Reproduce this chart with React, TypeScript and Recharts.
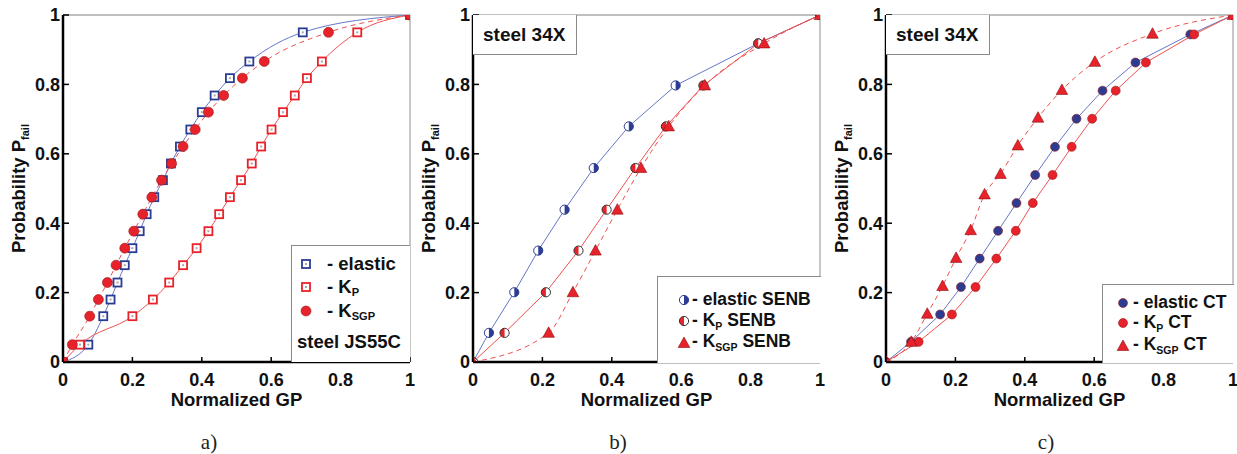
import React from 'react';
import { ScatterChart, Scatter, XAxis, YAxis, ReferenceLine, Legend } from 'recharts';

// ---------- data ----------
const axisTicks = [0, 0.2, 0.4, 0.6, 0.8, 1];
const axisTickLabels = ['0', '0.2', '0.4', '0.6', '0.8', '1'];

// panel a) steel JS55C
const aProb = [0, 0.05, 0.132, 0.18, 0.229, 0.279, 0.328, 0.377, 0.426, 0.475, 0.524, 0.572, 0.621, 0.67, 0.72, 0.768, 0.818, 0.866, 0.95, 1];
const aElasticX = [0, 0.073, 0.116, 0.137, 0.157, 0.178, 0.2, 0.221, 0.241, 0.263, 0.288, 0.311, 0.337, 0.367, 0.4, 0.437, 0.481, 0.537, 0.691, 1];
const aKpX = [0, 0.049, 0.2, 0.259, 0.306, 0.346, 0.385, 0.419, 0.45, 0.481, 0.513, 0.544, 0.571, 0.601, 0.634, 0.668, 0.703, 0.746, 0.848, 1];
const aKsgpX = [0, 0.027, 0.077, 0.102, 0.128, 0.153, 0.178, 0.204, 0.23, 0.256, 0.284, 0.313, 0.346, 0.381, 0.419, 0.463, 0.517, 0.58, 0.765, 1];

// panel b) steel 34X SENB
const bProb = [0, 0.084, 0.201, 0.321, 0.439, 0.559, 0.679, 0.797, 0.918, 1];
const bElasticX = [0, 0.046, 0.119, 0.188, 0.264, 0.348, 0.449, 0.584, 0.822, 1];
const bKpX = [0, 0.091, 0.21, 0.304, 0.385, 0.468, 0.556, 0.664, 0.822, 1];
const bKsgpX = [0, 0.218, 0.288, 0.353, 0.416, 0.484, 0.564, 0.668, 0.839, 1];

// panel c) steel 34X CT
const cProb = [0, 0.058, 0.137, 0.216, 0.298, 0.378, 0.458, 0.539, 0.62, 0.701, 0.782, 0.863, 0.944, 1];
const cElasticX = [0, 0.072, 0.156, 0.216, 0.27, 0.323, 0.376, 0.43, 0.487, 0.549, 0.624, 0.719, 0.877, 1];
const cKpX = [0, 0.094, 0.19, 0.258, 0.318, 0.374, 0.423, 0.48, 0.535, 0.594, 0.662, 0.749, 0.888, 1];
const cKsgpProb = [0, 0.058, 0.139, 0.219, 0.3, 0.38, 0.483, 0.542, 0.624, 0.704, 0.784, 0.865, 0.946, 1];
const cKsgpX = [0, 0.073, 0.119, 0.163, 0.202, 0.244, 0.284, 0.33, 0.38, 0.438, 0.507, 0.602, 0.768, 1];

const zip = (xs: number[], ys: number[]) => xs.map((x, i) => ({ x, y: ys[i] }));

// ---------- styling ----------
const FONT = '"Liberation Sans", Arial, Helvetica, sans-serif';
const BLUE = '#2b3c92';
const BLUE_LINE = '#6577c6';
const RED = '#e8222a';
const RED_LINE = '#f05050';
const W_CHART = 420;
const H_CHART = 420;
const X_TM = 11;
const Y_TM = 3;

// ---------- marker shapes ----------
const SquareMark = ({ cx, cy, color }: any) => (
  <g>
    <rect x={cx - 4} y={cy - 4} width={8} height={8} fill="#fff" stroke={color} strokeWidth={1.8} />
    <rect x={cx - 1} y={cy - 1} width={2} height={2} fill="#aaa" />
  </g>
);
const CircleMark = ({ cx, cy, color, r = 5 }: any) => (
  <circle cx={cx} cy={cy} r={r} fill={color} stroke="#9a1a1a" strokeWidth={0.6} />
);
const HalfRight = ({ cx, cy, color, r = 4.6 }: any) => (
  <g>
    <circle cx={cx} cy={cy} r={r} fill="#fff" />
    <path d={`M${cx},${cy - r} A${r},${r} 0 0,1 ${cx},${cy + r} Z`} fill={color} />
    <circle cx={cx} cy={cy} r={r} fill="none" stroke={color} strokeWidth={1} />
  </g>
);
const HalfLeft = ({ cx, cy, color, r = 4.6 }: any) => (
  <g>
    <circle cx={cx} cy={cy} r={r} fill="#fff" />
    <path d={`M${cx},${cy - r} A${r},${r} 0 0,0 ${cx},${cy + r} Z`} fill={color} />
    <circle cx={cx} cy={cy} r={r} fill="none" stroke="#333" strokeWidth={1} />
  </g>
);
const TriMark = ({ cx, cy, color }: any) => (
  <polygon
    points={`${cx},${cy - 6} ${cx - 5.8},${cy + 4.5} ${cx + 5.8},${cy + 4.5}`}
    fill={color}
    stroke="#8a1010"
    strokeWidth={0.6}
  />
);

// ---------- axis ticks / labels ----------
const fmt = (v: number) => axisTickLabels[axisTicks.findIndex((t) => Math.abs(t - v) < 1e-9)] ?? String(v);

const XTick = ({ x, y, payload }: any) => (
  <g>
    <line x1={x} x2={x} y1={y - X_TM} y2={y - X_TM - 5} stroke="#000" strokeWidth={1.5} />
    <text x={x} y={y} dy="0.71em" textAnchor="middle" fontFamily={FONT} fontWeight="bold" fontSize={18} fill="#111">
      {fmt(payload.value)}
    </text>
  </g>
);
const YTick = ({ x, y, payload }: any) => (
  <g>
    <line x1={x + Y_TM} x2={x + Y_TM + 6} y1={y} y2={y} stroke="#000" strokeWidth={1.5} />
    <text x={x} y={y} dy="0.36em" textAnchor="end" fontFamily={FONT} fontWeight="bold" fontSize={18} fill="#111">
      {fmt(payload.value)}
    </text>
  </g>
);

const YLabel = ({ viewBox }: any) => {
  const cx = viewBox.x + 18;
  const cy = viewBox.y + viewBox.height / 2;
  return (
    <text
      transform={`translate(${cx},${cy}) rotate(-90)`}
      textAnchor="middle"
      dy="0.36em"
      fontFamily={FONT}
      fontWeight="bold"
      fontSize={18.5}
      fill="#111"
    >
      Probability P
      <tspan fontSize={11} dy={4}>
        fail
      </tspan>
    </text>
  );
};
const XLabel = ({ viewBox }: any) => (
  <text
    x={viewBox.x + viewBox.width / 2}
    y={viewBox.y + 44}
    textAnchor="middle"
    fontFamily={FONT}
    fontWeight="bold"
    fontSize={18.5}
    fill="#111"
  >
    Normalized GP
  </text>
);

// ---------- legend ----------
type LegItem = { mark: React.ReactNode; text: React.ReactNode; cy: number };
const makeLegend =
  (w: number, h: number, markX: number, textX: number, fontSize: number, items: LegItem[], extra?: React.ReactNode) =>
  () =>
    (
      <div
        style={{
          position: 'relative',
          width: w,
          height: h,
          borderLeft: '1px solid #8a8a8a',
          borderTop: '1px solid #8a8a8a',
          background: '#fff',
          boxSizing: 'border-box',
          fontFamily: FONT,
          fontWeight: 'bold',
          fontSize,
          color: '#111',
        }}
      >
        {items.map((it, i) => (
          <div key={i}>
            <svg style={{ position: 'absolute', left: markX - 8, top: it.cy - 8 }} width={16} height={16}>
              {it.mark}
            </svg>
            <div style={{ position: 'absolute', left: textX, top: it.cy - fontSize * 0.62, whiteSpace: 'nowrap', lineHeight: 1.2 }}>
              {it.text}
            </div>
          </div>
        ))}
        {extra}
      </div>
    );

const Sub = ({ children }: any) => (
  <span style={{ fontSize: '0.6em', position: 'relative', top: '0.35em' }}>{children}</span>
);

const legendA = makeLegend(
  119,
  117,
  14,
  35,
  18.5,
  [
    { mark: <SquareMark cx={8} cy={8} color={BLUE} />, text: '- elastic', cy: 18 },
    { mark: <SquareMark cx={8} cy={8} color={RED} />, text: <>- K<Sub>P</Sub></>, cy: 41 },
    { mark: <CircleMark cx={8} cy={8} color={RED} />, text: <>- K<Sub>SGP</Sub></>, cy: 65 },
  ],
  <div style={{ position: 'absolute', left: 5, top: 85, whiteSpace: 'nowrap', lineHeight: 1.2 }}>steel JS55C</div>
);
const legendB = makeLegend(164, 87, 26, 34, 17.5, [
  { mark: <HalfRight cx={8} cy={8} color={BLUE} />, text: '- elastic SENB', cy: 23 },
  { mark: <HalfLeft cx={8} cy={8} color={RED} />, text: <>- K<Sub>P</Sub> SENB</>, cy: 44 },
  { mark: <TriMark cx={8} cy={9} color={RED} />, text: <>- K<Sub>SGP</Sub> SENB</>, cy: 65 },
]);
const legendC = makeLegend(132, 79, 20, 30, 17.5, [
  { mark: <CircleMark cx={8} cy={8} color={BLUE} r={4.5} />, text: '- elastic CT', cy: 18 },
  { mark: <CircleMark cx={8} cy={8} color={RED} r={4.5} />, text: <>- K<Sub>P</Sub> CT</>, cy: 38 },
  { mark: <TriMark cx={8} cy={9} color={RED} />, text: <>- K<Sub>SGP</Sub> CT</>, cy: 60 },
]);

// ---------- panel ----------
const Panel = ({
  left,
  width,
  marginRight,
  children,
  legend,
  legendPos,
}: any) => (
  <div style={{ position: 'absolute', left, top: 0 }}>
    <ScatterChart width={width} height={H_CHART} margin={{ top: 15, right: marginRight, bottom: 18, left: 0 }}>
      <XAxis
        type="number"
        dataKey="x"
        domain={[0, 1]}
        ticks={axisTicks}
        allowDataOverflow
        height={40}
        tickSize={0}
        tickMargin={X_TM}
        tick={<XTick />}
        axisLine={{ stroke: '#000', strokeWidth: 2.5 }}
        label={<XLabel />}
      />
      <YAxis
        type="number"
        dataKey="y"
        domain={[0, 1]}
        ticks={axisTicks}
        allowDataOverflow
        width={63}
        tickSize={0}
        tickMargin={Y_TM}
        tick={<YTick />}
        axisLine={{ stroke: '#000', strokeWidth: 2.5 }}
        label={<YLabel />}
      />
      <ReferenceLine y={1} stroke="#808080" strokeWidth={1} />
      <ReferenceLine x={1} stroke="#909090" strokeWidth={1} />
      {children}
      <Legend
        layout="vertical"
        align="center"
        verticalAlign="middle"
        content={legend}
        wrapperStyle={{ left: legendPos[0], top: legendPos[1], width: legendPos[2], height: legendPos[3] }}
      />
    </ScatterChart>
  </div>
);

const steelBox = (left: number) => (
  <div
    style={{
      position: 'absolute',
      left,
      top: 15,
      width: 104,
      height: 40,
      boxSizing: 'border-box',
      borderRight: '1px solid #8a8a8a',
      borderBottom: '1px solid #8a8a8a',
      fontFamily: FONT,
      fontWeight: 'bold',
      fontSize: 19,
      color: '#111',
      paddingLeft: 10,
      lineHeight: '40px',
      background: '#fff',
    }}
  >
    steel 34X
  </div>
);

const subLabel = (text: string, cx: number) => (
  <div
    style={{
      position: 'absolute',
      left: cx - 20,
      width: 40,
      top: 431,
      textAlign: 'center',
      fontFamily: '"Liberation Serif", "Times New Roman", serif',
      fontSize: 21,
      lineHeight: '22px',
      color: '#222',
    }}
  >
    {text}
  </div>
);

const lineStyle = (color: string, dashed = false) =>
  dashed ? { stroke: color, strokeWidth: 1, strokeDasharray: '5 4' } : { stroke: color, strokeWidth: 1 };

export default function App() {
  return (
    <div style={{ position: 'absolute', left: 0, top: 0, width: 1237, height: 454, background: '#fff', overflow: 'hidden' }}>
      {/* a) */}
      <Panel left={0} width={W_CHART} marginRight={10} legend={legendA} legendPos={[291, 245, 119, 117]}>
        <Scatter
          name="elastic"
          data={zip(aElasticX, aProb)}
          isAnimationActive={false}
          line={lineStyle(BLUE_LINE)}
          lineJointType="monotoneX"
          shape={(p: any) => <SquareMark cx={p.cx} cy={p.cy} color={BLUE} />}
        />
        <Scatter
          name="Kp"
          data={zip(aKpX, aProb)}
          isAnimationActive={false}
          line={lineStyle(RED_LINE)}
          lineJointType="monotoneX"
          shape={(p: any) => <SquareMark cx={p.cx} cy={p.cy} color={RED} />}
        />
        <Scatter
          name="Ksgp"
          data={zip(aKsgpX, aProb)}
          isAnimationActive={false}
          line={lineStyle(RED_LINE, true)}
          lineJointType="monotoneX"
          shape={(p: any) => <CircleMark cx={p.cx} cy={p.cy} color={RED} />}
        />
      </Panel>

      {/* b) */}
      <Panel left={410} width={W_CHART} marginRight={10} legend={legendB} legendPos={[247, 276, 164, 87]}>
        <Scatter
          name="elastic SENB"
          data={zip(bElasticX, bProb)}
          isAnimationActive={false}
          line={lineStyle(BLUE_LINE)}
          lineJointType="linear"
          shape={(p: any) => <HalfRight cx={p.cx} cy={p.cy} color={BLUE} />}
        />
        <Scatter
          name="Kp SENB"
          data={zip(bKpX, bProb)}
          isAnimationActive={false}
          line={lineStyle(RED_LINE)}
          lineJointType="linear"
          shape={(p: any) => <HalfLeft cx={p.cx} cy={p.cy} color={RED} />}
        />
        <Scatter
          name="Ksgp SENB"
          data={zip(bKsgpX, bProb)}
          isAnimationActive={false}
          line={lineStyle(RED_LINE, true)}
          lineJointType="monotoneX"
          shape={(p: any) => <TriMark cx={p.cx} cy={p.cy} color={RED} />}
        />
      </Panel>

      {/* c) */}
      <Panel left={823} width={414} marginRight={4} legend={legendC} legendPos={[279, 284, 132, 79]}>
        <Scatter
          name="elastic CT"
          data={zip(cElasticX, cProb)}
          isAnimationActive={false}
          line={lineStyle(BLUE_LINE)}
          lineJointType="linear"
          shape={(p: any) => <CircleMark cx={p.cx} cy={p.cy} color={BLUE} r={4.5} />}
        />
        <Scatter
          name="Kp CT"
          data={zip(cKpX, cProb)}
          isAnimationActive={false}
          line={lineStyle(RED_LINE)}
          lineJointType="linear"
          shape={(p: any) => <CircleMark cx={p.cx} cy={p.cy} color={RED} r={4.5} />}
        />
        <Scatter
          name="Ksgp CT"
          data={zip(cKsgpX, cKsgpProb)}
          isAnimationActive={false}
          line={lineStyle(RED_LINE, true)}
          lineJointType="monotoneX"
          shape={(p: any) => <TriMark cx={p.cx} cy={p.cy} color={RED} />}
        />
      </Panel>

      {steelBox(473)}
      {steelBox(886)}
      {subLabel('a)', 209)}
      {subLabel('b)', 618)}
      {subLabel('c)', 1046)}
    </div>
  );
}
